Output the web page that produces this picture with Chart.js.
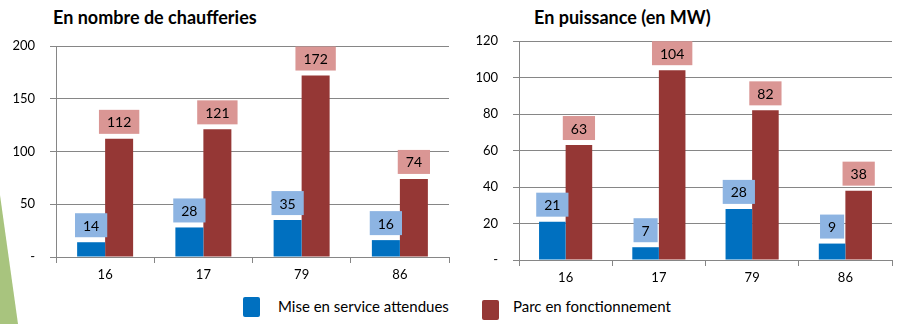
<!DOCTYPE html>
<html>
<head>
<meta charset="utf-8">
<script src="https://cdn.jsdelivr.net/npm/chart.js@4.4.1/dist/chart.umd.min.js"></script>
<style>
  body { margin: 0; background: #fff; font-family: Lato, sans-serif; }
  #page { position: relative; width: 910px; height: 324px; overflow: hidden; }
  .title { position: absolute; top: 6px; font-weight: bold; font-size: 18px; color: #000; white-space: nowrap; }
  .box { position: absolute; }
  .legend-text { position: absolute; font-size: 15px; color: #000; white-space: nowrap; }
  #deco { position: absolute; left: 0; top: 195px; width: 18px; height: 129px; background: #a8c47e;
          clip-path: polygon(0 0, 100% 100%, 0 100%); }
</style>
</head>
<body>
<div id="page">
  <div id="deco"></div>
  <div class="title" style="left:53px">En nombre de chaufferies</div>
  <div class="title" style="left:534px">En puissance (en MW)</div>
  <canvas id="countChart" class="box" style="left:0;top:0" width="455" height="290"></canvas>
  <canvas id="powerChart" class="box" style="left:455px;top:0" width="455" height="290"></canvas>
  <div class="box" style="left:243px;top:297px;width:17px;height:20px;background:#0070c0;border-radius:2px"></div>
  <div class="legend-text" style="left:278px;top:297px">Mise en service attendues</div>
  <div class="box" style="left:482px;top:300px;width:17px;height:20px;background:#953735;border-radius:2px"></div>
  <div class="legend-text" style="left:513px;top:297px">Parc en fonctionnement</div>
</div>
<script>
// departments
const categories = ['16', '17', '79', '86'];

// number of boiler rooms
const countMise = [14, 28, 35, 16];
const countParc = [112, 121, 172, 74];

// power in MW
const powerMise = [21, 7, 28, 9];
const powerParc = [63, 104, 82, 38];

const seriesNames = ['Mise en service attendues', 'Parc en fonctionnement'];

// boxed value labels above each bar
const valueBoxes = {
    id: 'valueBoxes',
    afterDatasetsDraw(chart) {
        const ctx = chart.ctx;
        ctx.save();
        ctx.font = '14px Lato';
        ctx.textAlign = 'center';
        ctx.textBaseline = 'middle';
        chart.data.datasets.forEach((ds, i) => {
            chart.getDatasetMeta(i).data.forEach((bar, j) => {
                const txt = String(ds.data[j]);
                const w = ctx.measureText(txt).width + 16;
                const h = 24;
                const bottom = bar.y - 5;
                ctx.fillStyle = ds.boxColor;
                ctx.fillRect(bar.x - w / 2, bottom - h, w, h);
                ctx.fillStyle = '#000';
                ctx.fillText(txt, bar.x, bottom - h / 2 + 1);
            });
        });
        ctx.restore();
    }
};

function makeChart(id, mise, parc, max, step, pad, yWidth) {
    return new Chart(document.getElementById(id), {
        type: 'bar',
        data: {
            labels: categories,
            datasets: [
                { label: seriesNames[0], data: mise, backgroundColor: '#0070c0', boxColor: '#8db4e2' },
                { label: seriesNames[1], data: parc, backgroundColor: '#953735', boxColor: '#da9694' }
            ]
        },
        options: {
            responsive: false,
            animation: false,
            layout: { padding: pad },
            datasets: { bar: { categoryPercentage: 0.57, barPercentage: 1 } },
            plugins: { legend: { display: false }, tooltip: { enabled: false } },
            scales: {
                x: {
                    afterFit: s => { s.height = 30; },
                    border: { color: '#868686' },
                    grid: { offset: true, drawOnChartArea: false, tickLength: 6, color: '#868686' },
                    ticks: { color: '#000', font: { family: 'Lato', size: 13 }, padding: 4 }
                },
                y: {
                    min: 0, max: max,
                    afterFit: s => { s.width = yWidth; },
                    border: { color: '#868686' },
                    grid: { color: '#868686', tickLength: 6 },
                    ticks: {
                        stepSize: step,
                        color: '#000',
                        font: { family: 'Lato', size: 13 },
                        padding: 15,
                        callback: v => v === 0 ? '-' : v
                    }
                }
            }
        },
        plugins: [valueBoxes]
    });
}

makeChart('countChart', countMise, countParc, 200, 50, { top: 46, right: 6, bottom: 3, left: 0 }, 56);
makeChart('powerChart', powerMise, powerParc, 120, 20, { top: 41, right: 18, bottom: 0, left: 0 }, 64);
</script>
</body>
</html>
